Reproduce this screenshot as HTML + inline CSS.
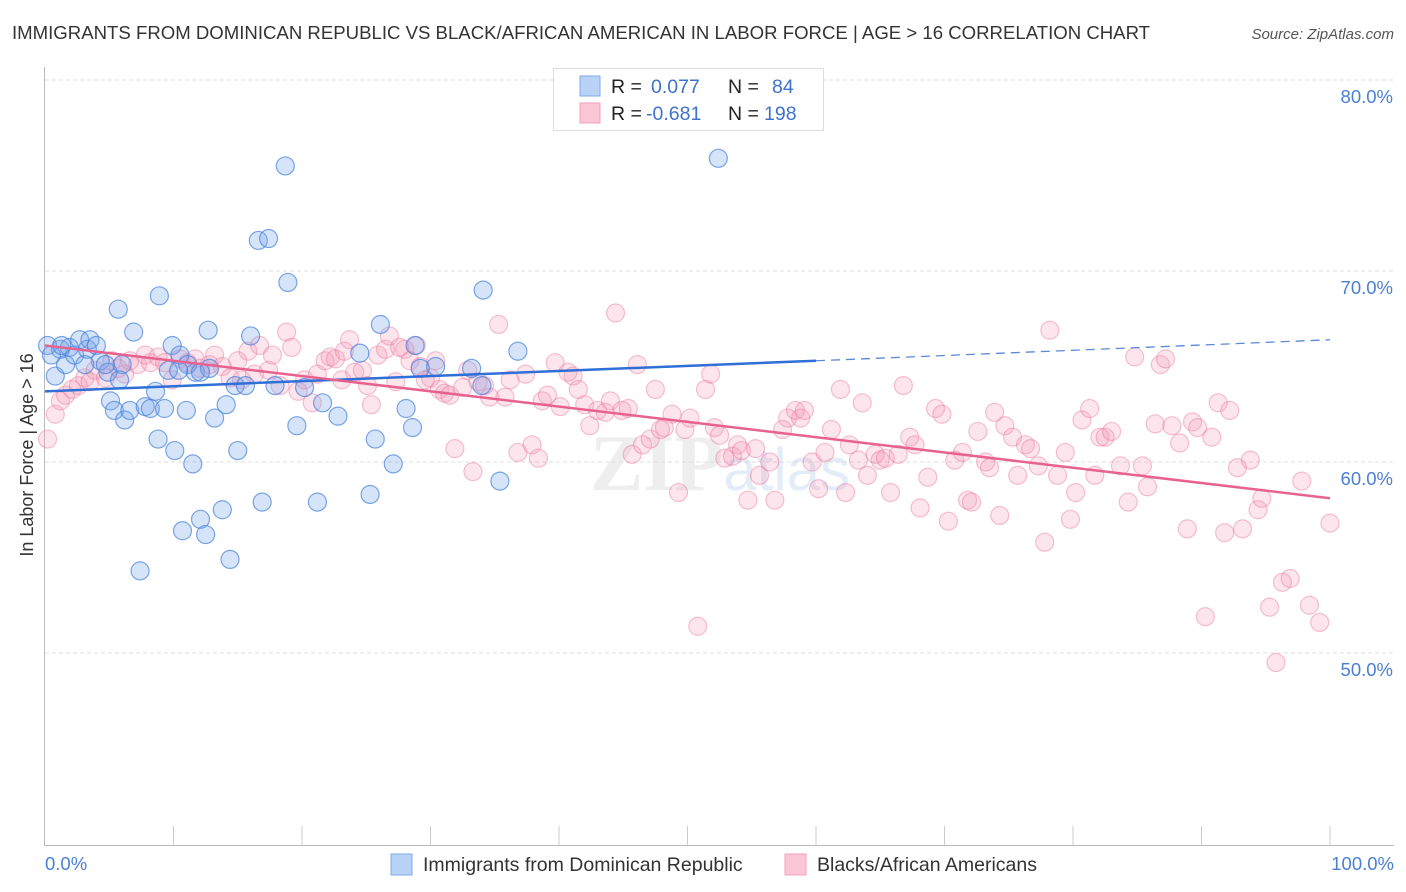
<!DOCTYPE html>
<html><head><meta charset="utf-8">
<style>
body{margin:0;background:#fff;font-family:"Liberation Sans",sans-serif;}
svg{display:block}
</style></head>
<body>
<svg id="chart" width="1406" height="892" xmlns="http://www.w3.org/2000/svg">
<text x="12" y="39" font-size="18.6" fill="#333">IMMIGRANTS FROM DOMINICAN REPUBLIC VS BLACK/AFRICAN AMERICAN IN LABOR FORCE | AGE &gt; 16 CORRELATION CHART</text>
<text x="1394" y="39" font-size="15" font-style="italic" fill="#555" text-anchor="end">Source: ZipAtlas.com</text>
<text x="720" y="490" font-size="80" font-family="Liberation Serif,serif" fill="#eeeeee" text-anchor="middle" font-weight="bold">ZIP<tspan font-family="Liberation Sans,sans-serif" font-weight="normal" font-size="60" fill="#e3ecf7">atlas</tspan></text>
<g id="grid"></g>
<g id="axes"></g>
<g id="pinkpts"></g>
<g id="bluepts"></g>
<g id="trends"></g>
<text transform="translate(33,455) rotate(-90)" font-size="18" fill="#333" text-anchor="middle">In Labor Force | Age &gt; 16</text>
<text x="45" y="870" font-size="18.5" fill="#4a7fd4">0.0%</text>
<text x="1394" y="870" font-size="18.5" fill="#4a7fd4" text-anchor="end">100.0%</text>
<g>
<rect x="553.5" y="68.5" width="270" height="62" fill="#fff" stroke="#ddd"/>
<rect x="580" y="76" width="20" height="20" fill="#b9d3f7" stroke="#7ea9e8"/>
<rect x="580" y="103" width="20" height="20" fill="#fbc7d7" stroke="#f0a2bb"/>
<text x="611" y="93" font-size="19.5" fill="#222">R = </text><text x="651" y="93" font-size="19.5" fill="#3d73cc">0.077</text>
<text x="728" y="93" font-size="19.5" fill="#222">N = </text><text x="772" y="93" font-size="19.5" fill="#3d73cc">84</text>
<text x="611" y="120" font-size="19.5" fill="#222">R = </text><text x="646" y="120" font-size="19.5" fill="#3d73cc">-0.681</text>
<text x="728" y="120" font-size="19.5" fill="#222">N = </text><text x="764" y="120" font-size="19.5" fill="#3d73cc">198</text>
</g>
<g>
<rect x="391" y="854" width="21" height="21" fill="#b9d3f7" stroke="#7ea9e8"/>
<text x="423" y="871" font-size="19.5" fill="#333">Immigrants from Dominican Republic</text>
<rect x="785" y="854" width="21" height="21" fill="#fbc7d7" stroke="#f0a2bb"/>
<text x="817" y="871" font-size="19.5" fill="#333">Blacks/African Americans</text>
</g>
</svg>
<script>
const yTicks=[80,70,60,50];
const blueX=[0.2,0.8,1.2,1.6,1.9,2.3,2.7,3.3,3.5,4.0,4.3,4.9,5.1,5.4,5.7,6.0,6.2,6.6,6.9,7.4,7.8,8.2,8.6,8.8,8.9,9.6,9.9,10.1,10.5,10.7,11.0,11.1,11.5,11.7,12.1,12.5,12.7,12.8,13.2,13.8,14.1,14.4,14.8,15.0,16.0,16.6,16.9,17.4,17.9,18.7,18.9,19.6,20.2,21.2,21.6,22.8,24.5,25.3,25.7,26.1,27.1,28.1,28.6,28.8,29.2,30.4,33.2,34.0,34.1,35.4,36.8,52.4,0.5,1.3,3.1,4.7,5.8,10.4,12.1,15.6,9.3];
const blueY=[66.1,64.5,65.9,65.1,66.0,65.6,66.4,65.9,66.4,66.1,65.3,64.7,63.2,62.7,68.0,65.1,62.2,62.7,66.8,54.3,62.9,62.8,63.7,61.2,68.7,64.8,66.1,60.6,65.6,56.4,62.7,65.1,59.9,64.7,57.0,56.2,66.9,64.9,62.3,57.5,63.0,54.9,64.0,60.6,66.6,71.6,57.9,71.7,64.0,75.5,69.4,61.9,63.9,57.9,63.1,62.4,65.7,58.3,61.2,67.2,59.9,62.8,61.8,66.1,64.9,65.0,64.9,64.0,69.0,59.0,65.8,75.9,65.6,66.1,65.1,65.1,64.3,64.8,64.7,64.0,62.8];
const pinkX=[0.2,0.8,1.2,1.6,2.1,2.6,3.1,3.5,3.9,4.7,5.2,5.7,6.2,6.6,7.2,7.8,8.2,8.8,9.3,9.9,10.5,11.1,11.7,12.1,12.8,13.2,13.8,14.4,15.0,15.3,15.8,16.3,16.7,17.4,17.7,18.3,18.8,19.2,19.7,20.2,20.8,21.2,21.8,22.2,22.6,23.1,23.3,23.7,24.1,24.7,25.1,25.4,25.9,26.5,26.8,27.3,27.6,28.0,28.4,28.9,29.2,29.6,30.0,30.4,30.7,31.1,31.5,31.9,32.5,32.9,33.3,33.7,34.2,34.6,35.3,35.8,36.2,36.8,37.4,37.9,38.4,38.7,39.1,39.7,40.1,40.7,41.1,41.5,42.0,42.4,43.0,43.6,44.0,44.4,44.9,45.4,45.7,46.1,46.5,47.1,47.5,47.9,48.2,48.8,49.3,49.8,50.2,50.8,51.4,51.8,52.1,52.5,52.9,53.5,53.9,54.2,54.7,55.3,55.6,56.4,56.8,57.4,57.8,58.4,58.8,59.1,59.7,60.2,60.7,61.2,61.9,62.3,62.6,63.3,63.6,64.0,64.6,65.0,65.4,65.8,66.4,66.8,67.3,67.7,68.1,68.7,69.3,69.8,70.3,70.8,71.4,71.8,72.1,72.6,73.2,73.5,73.9,74.3,74.7,75.3,75.7,76.3,76.7,77.3,77.8,78.2,78.8,79.4,79.8,80.2,80.7,81.3,81.7,82.1,82.5,83.0,83.7,84.3,84.8,85.4,85.8,86.4,86.8,87.2,87.7,88.3,88.9,89.3,89.7,90.3,90.8,91.3,91.8,92.2,92.8,93.2,93.8,94.4,94.7,95.3,95.8,96.3,96.9,97.8,98.4,99.2,100];
const pinkY=[61.2,62.5,63.2,63.5,63.8,64.0,64.4,64.2,64.8,64.4,65.3,64.9,64.6,65.3,65.1,65.6,65.2,65.5,65.2,64.3,65.4,65.2,65.4,64.9,65.1,65.6,65.0,64.4,65.3,64.3,65.8,64.6,66.1,64.8,65.6,64.0,66.8,66.0,63.7,64.3,63.1,64.6,65.3,65.5,65.4,64.3,65.8,66.4,64.7,64.8,64.0,63.0,65.6,65.9,66.6,64.2,66.0,65.9,65.3,66.1,65.0,64.3,64.4,65.3,63.8,63.6,63.5,60.7,63.9,64.8,59.5,64.2,64.0,63.4,67.2,63.4,64.3,60.5,64.6,60.9,60.2,63.2,63.5,65.2,62.9,64.7,64.5,63.8,63.0,61.9,62.7,62.6,63.2,67.8,62.7,62.8,60.4,65.1,60.9,61.2,63.8,61.7,61.8,62.5,58.4,61.7,62.3,51.4,63.8,64.6,61.8,61.4,60.2,60.3,60.9,60.6,58.0,60.7,59.3,60.0,58.0,61.7,62.3,62.7,62.3,62.7,60.0,58.6,60.5,61.7,63.8,58.4,60.9,60.1,63.1,59.3,60.4,60.1,60.2,58.4,60.4,64.0,61.3,60.9,57.6,59.2,62.8,62.5,56.9,60.1,60.5,58.0,57.9,61.6,60.0,59.7,62.6,57.2,61.9,61.3,59.3,60.9,60.7,59.8,55.8,66.9,59.3,60.5,57.0,58.4,62.2,62.8,59.3,61.3,61.3,61.6,59.8,57.9,65.5,59.8,58.7,62.0,65.1,65.4,61.9,61.0,56.5,62.1,61.8,51.9,61.3,63.1,56.3,62.7,59.7,56.5,60.1,57.5,58.1,52.4,49.5,53.7,53.9,59.0,52.5,51.6,56.8];
const blueTrendX=[0,60,100];
const blueTrendY=[63.7,65.3,66.4];
const pinkTrendX=[0,100];
const pinkTrendY=[66.1,58.1];

const NS="http://www.w3.org/2000/svg";
function sx(v){return 45+v*12.85;}
function sy(v){return 80+(80-v)*19.1;}
function mk(tag,attrs,parent){const e=document.createElementNS(NS,tag);for(const k in attrs)e.setAttribute(k,attrs[k]);parent.appendChild(e);return e;}

const grid=document.getElementById('grid');
yTicks.forEach(t=>{
  const l=mk('line',{x1:45,x2:1393,y1:sy(t),y2:sy(t),stroke:'#ddd','stroke-dasharray':'4,3'},grid);
  
  
  const tx=mk('text',{x:1393,y:sy(t)+23,'font-size':18.5,fill:'#4a7fd4','text-anchor':'end'},grid);
  tx.textContent=t.toFixed(1)+'%';
  
  
});
const axes=document.getElementById('axes');
const ya=mk('line',{x1:44.5,x2:44.5,y1:67,y2:846,stroke:'#bbb'},axes);


const xa=mk('line',{x1:44,x2:1394,y1:845.5,y2:845.5,stroke:'#bbb'},axes);


for(let i=1;i<=10;i++){
  const tk=mk('line',{x1:sx(i*10),x2:sx(i*10),y1:826,y2:845,stroke:'#ccc'},axes);
  
  
}
const pg=document.getElementById('pinkpts');
pinkX.forEach((x,i)=>{
  const c=mk('circle',{cx:sx(x),cy:sy(pinkY[i]),r:9,fill:'rgba(245,150,180,0.25)',stroke:'rgba(236,120,160,0.45)','stroke-width':1.2},pg);
  
  
});
const bg=document.getElementById('bluepts');
blueX.forEach((x,i)=>{
  const c=mk('circle',{cx:sx(x),cy:sy(blueY[i]),r:9,fill:'rgba(120,165,235,0.3)',stroke:'rgba(70,130,220,0.7)','stroke-width':1.2},bg);
  
  
});
const tg=document.getElementById('trends');
const b1=mk('line',{x1:sx(blueTrendX[0]),y1:sy(blueTrendY[0]),x2:sx(blueTrendX[1]),y2:sy(blueTrendY[1]),stroke:'#2e6fd8','stroke-width':2.5},tg);


const b2=mk('line',{x1:sx(blueTrendX[1]),y1:sy(blueTrendY[1]),x2:sx(blueTrendX[2]),y2:sy(blueTrendY[2]),stroke:'#5a8ad8','stroke-width':1.3,'stroke-dasharray':'9,6'},tg);


const p1=mk('line',{x1:sx(pinkTrendX[0]),y1:sy(pinkTrendY[0]),x2:sx(pinkTrendX[1]),y2:sy(pinkTrendY[1]),stroke:'#e8628f','stroke-width':2.5},tg);


</script>
</body></html>
